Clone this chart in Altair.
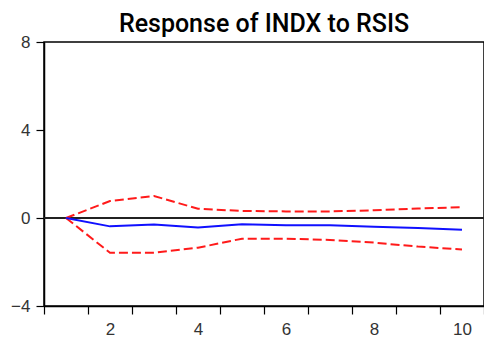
import altair as alt
import pandas as pd

periods = [1, 2, 3, 4, 5, 6, 7, 8, 9, 10]
response = [0.0, -0.38, -0.29, -0.43, -0.28, -0.33, -0.33, -0.40, -0.46, -0.53]
upper = [0.0, 0.77, 1.0, 0.42, 0.32, 0.30, 0.30, 0.35, 0.43, 0.49]
lower = [0.0, -1.58, -1.58, -1.35, -0.94, -0.94, -1.0, -1.12, -1.30, -1.43]

df = pd.DataFrame({"period": periods, "response": response, "upper": upper, "lower": lower})

x_ticks = [v / 2 for v in range(1, 22)]

xscale = alt.Scale(domain=[0.5, 10.5], nice=False, zero=False)
yscale = alt.Scale(domain=[-4, 8], nice=False)

xaxis = alt.Axis(
    values=x_ticks, title=None, grid=False, labelOverlap=False,
    labelExpr="datum.value % 2 == 0 ? '' + datum.value : ''",
    tickOpacity={"condition": {"test": "datum.value % 1 == 0", "value": 0}, "value": 1},
    tickSize=8, tickColor="black", domainColor="black", domainWidth=1.5, tickWidth=1.2,
    labelFont="Liberation Sans", labelFontSize=17, labelColor="#333", labelPadding=7,
)
yaxis = alt.Axis(
    values=[-4, 0, 4, 8], title=None, grid=False,
    tickSize=8, tickColor="black", domainColor="black", domainWidth=1.5, tickWidth=1.2,
    labelFont="Liberation Sans", labelFontSize=17, labelColor="#333", labelPadding=6,
)

base = alt.Chart(df)

zero = base.mark_rule(color="#222", strokeWidth=0.8).encode(y=alt.datum(0, scale=yscale, axis=yaxis))

resp = base.mark_line(color="#1010ff", strokeWidth=2).encode(
    x=alt.X("period:Q", scale=xscale, axis=xaxis),
    y=alt.Y("response:Q", scale=yscale, axis=yaxis),
)
up = base.mark_line(color="#ff1a1a", strokeWidth=2, strokeDash=[9, 4]).encode(
    x=alt.X("period:Q", scale=xscale, axis=xaxis),
    y=alt.Y("upper:Q", scale=yscale, axis=yaxis),
)
lo = base.mark_line(color="#ff1a1a", strokeWidth=2, strokeDash=[9, 4]).encode(
    x=alt.X("period:Q", scale=xscale, axis=xaxis),
    y=alt.Y("lower:Q", scale=yscale, axis=yaxis),
)

chart = alt.layer(zero, up, lo, resp).properties(
    width=440, height=264,
    background="white",
    title=alt.TitleParams("Response of INDX to RSIS", font="Roboto", fontSize=25,
                          fontWeight=500, color="black", anchor="middle", offset=-4),
    autosize=alt.AutoSizeParams(type="none"),
    padding={"left": 36, "top": 34, "right": 0, "bottom": 37},
).configure_view(stroke="black", strokeWidth=1.5)

chart.save("out.html", embed_options={"renderer": "svg", "actions": False})
